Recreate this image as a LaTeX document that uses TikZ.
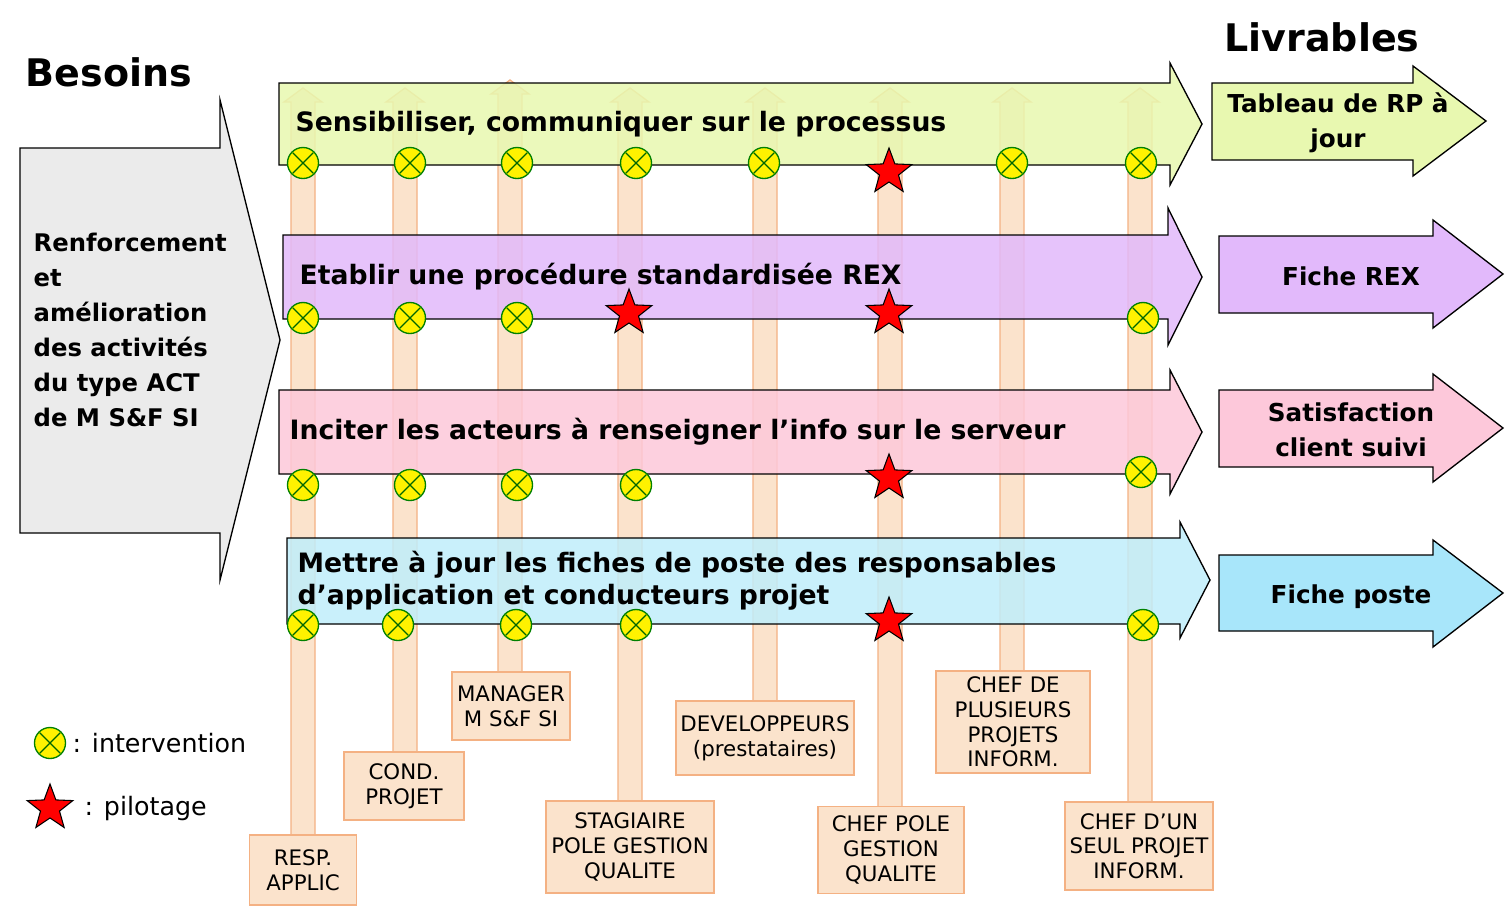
\documentclass[tikz,border=0pt]{standalone}
\usepackage{fontspec}
\setmainfont{DejaVu Sans}
\usetikzlibrary{shapes.geometric}
\definecolor{colf}{HTML}{FBE3CC}
\definecolor{colo}{HTML}{F4B183}
\definecolor{gr}{HTML}{E8F8B0}
\definecolor{pu}{HTML}{E2B9FB}
\definecolor{pk}{HTML}{FDC8DA}
\definecolor{bl}{HTML}{C0EEFB}
\definecolor{bl2}{HTML}{A8E6FA}
\begin{document}
\begin{tikzpicture}[x=0.75pt,y=-0.75pt,
  col/.style={fill=colf,draw=colo,line width=1pt},
  lab/.style={draw=colo,fill=colf,line width=1pt,align=center,font=\fontsize{16}{18.5}\selectfont,inner sep=0pt},
  harr/.style={draw=black,line width=1pt,fill opacity=0.85},
  itv/.style={circle,draw=green!50!black,fill=yellow,line width=1pt,minimum size=31pt*0.75,inner sep=0pt,path picture={\draw[green!40!black,line width=1pt] (path picture bounding box.south west)++(4pt,4pt) -- ([xshift=-4pt,yshift=-4pt]path picture bounding box.north east) (path picture bounding box.north west)++(4pt,-4pt) -- ([xshift=-4pt,yshift=4pt]path picture bounding box.south east);}},
  pil/.style={star,star points=5,star point ratio=2.4,draw=black,fill=red,line width=0.8pt,minimum size=36pt,inner sep=0pt},
  btxt/.style={font=\bfseries\fontsize{20}{24}\selectfont,anchor=west,align=left},
  dtxt/.style={font=\bfseries\fontsize{18.5}{26}\selectfont,align=center}]
\useasboundingbox (0,0) rectangle (1505,908);
\fill[white] (0,0) rectangle (1505,908);
\node[font=\bfseries\fontsize{28.5}{30}\selectfont,anchor=west] (bes) at (21,72) {Besoins};
\node[font=\bfseries\fontsize{28.5}{30}\selectfont] (liv) at (1322,37) {Livrables};
% left grey arrow
\draw[fill=black!8,line width=1pt] (20,148) -- (220,148) -- (220,100) -- (280,340) -- (220,580) -- (220,533) -- (20,533) -- cycle;
\node[font=\bfseries\fontsize{18.2}{26.3}\selectfont,anchor=north west,align=left] (ren) at (29,228) {Renforcement\\et\\amélioration\\des activités\\du type ACT\\de M S\&F SI};
% columns
\foreach \c/\t/\b in {303/88/835, 405/88/752, 510/80/672, 630/88/801, 765/88/701, 890/88/806, 1012/88/671, 1140/88/802}{
  \draw[col] (\c-12,\b) -- (\c-12,\t+14) -- (\c-19,\t+14) -- (\c,\t) -- (\c+19,\t+14) -- (\c+12,\t+14) -- (\c+12,\b);
}
% labels
\node[lab,minimum width=107*0.75pt,minimum height=70*0.75pt] (l1) at (303,870) {RESP.\\APPLIC};
\node[lab,minimum width=120*0.75pt,minimum height=68*0.75pt] (l2) at (404,786) {COND.\\PROJET};
\node[lab,minimum width=118*0.75pt,minimum height=68*0.75pt] (l3) at (511,706) {MANAGER\\M S\&F SI};
\node[lab,minimum width=168*0.75pt,minimum height=92*0.75pt] (l4) at (630,847) {STAGIAIRE\\POLE GESTION\\QUALITE};
\node[lab,minimum width=178*0.75pt,minimum height=74*0.75pt] (l5) at (765,738) {DEVELOPPEURS\\(prestataires)};
\node[lab,minimum width=146*0.75pt,minimum height=87*0.75pt] (l6) at (891,850) {CHEF POLE\\GESTION\\QUALITE};
\node[lab,minimum width=154*0.75pt,minimum height=102*0.75pt] (l7) at (1013,722) {CHEF DE\\PLUSIEURS\\PROJETS\\INFORM.};
\node[lab,minimum width=148*0.75pt,minimum height=88*0.75pt] (l8) at (1139,846) {CHEF D’UN\\SEUL PROJET\\INFORM.};
% horizontal arrows
\draw[harr,fill=gr] (279,83) -- (1170,83) -- (1170,63) -- (1202,124) -- (1170,185) -- (1170,165) -- (279,165) -- cycle;
\draw[harr,fill=pu] (283,235) -- (1168,235) -- (1168,208) -- (1202,277) -- (1168,345) -- (1168,319) -- (283,319) -- cycle;
\draw[harr,fill=pk] (279,390) -- (1170,390) -- (1170,370) -- (1202,432) -- (1170,494) -- (1170,474) -- (279,474) -- cycle;
\draw[harr,fill=bl] (287,538) -- (1180,538) -- (1180,522) -- (1210,580) -- (1180,638) -- (1180,624) -- (287,624) -- cycle;
\node[btxt] (t1) at (291,124) {Sensibiliser, communiquer sur le processus};
\node[btxt] (t2) at (295,277) {Etablir une procédure standardisée REX};
\node[btxt] (t3) at (285,432) {Inciter les acteurs à renseigner l’info sur le serveur};
\node[btxt] (t4) at (293,581) {Mettre à jour les fiches de poste des responsables\\d’application et conducteurs projet};
% deliverables
\draw[line width=1pt,fill=gr] (1212,83) -- (1413,83) -- (1413,66) -- (1486,121) -- (1413,176) -- (1413,160) -- (1212,160) -- cycle;
\draw[line width=1pt,fill=pu] (1219,236) -- (1433,236) -- (1433,220) -- (1503,274) -- (1433,328) -- (1433,313) -- (1219,313) -- cycle;
\draw[line width=1pt,fill=pk] (1219,390) -- (1433,390) -- (1433,374) -- (1503,428) -- (1433,482) -- (1433,467) -- (1219,467) -- cycle;
\draw[line width=1pt,fill=bl2] (1219,555) -- (1433,555) -- (1433,540) -- (1503,593) -- (1433,647) -- (1433,631) -- (1219,631) -- cycle;
\node[dtxt] (d1) at (1338,123) {Tableau de RP à\\jour};
\node[dtxt] (d2) at (1351,276) {Fiche REX};
\node[dtxt] (d3) at (1351,430) {Satisfaction\\client suivi};
\node[dtxt] (d4) at (1351,597) {Fiche poste};
% markers
\foreach \x/\y in {303/163,410/163,517/163,636/163,764/163,1012/163,1141/163,
  303/318,410/318,517/318,1143/318,
  303/485,410/485,517/485,636/485,1141/472,
  303/625,398/625,516/625,636/625,1143/625}{
  \node[itv] at (\x,\y) {};
}
\foreach \x/\y in {889/172,629/313,889/313,889/478,889/621}{
  \node[pil] at (\x,\y) {};
}
% legend
\node[itv] (li) at (50,743) {};
\node[anchor=west,font=\fontsize{19}{22}\selectfont] (lit) at (68,743) {: intervention};
\node[pil] (lp) at (50,808) {};
\node[anchor=west,font=\fontsize{19}{22}\selectfont] (lpt) at (80,808) {: pilotage};
\end{tikzpicture}
\end{document}
